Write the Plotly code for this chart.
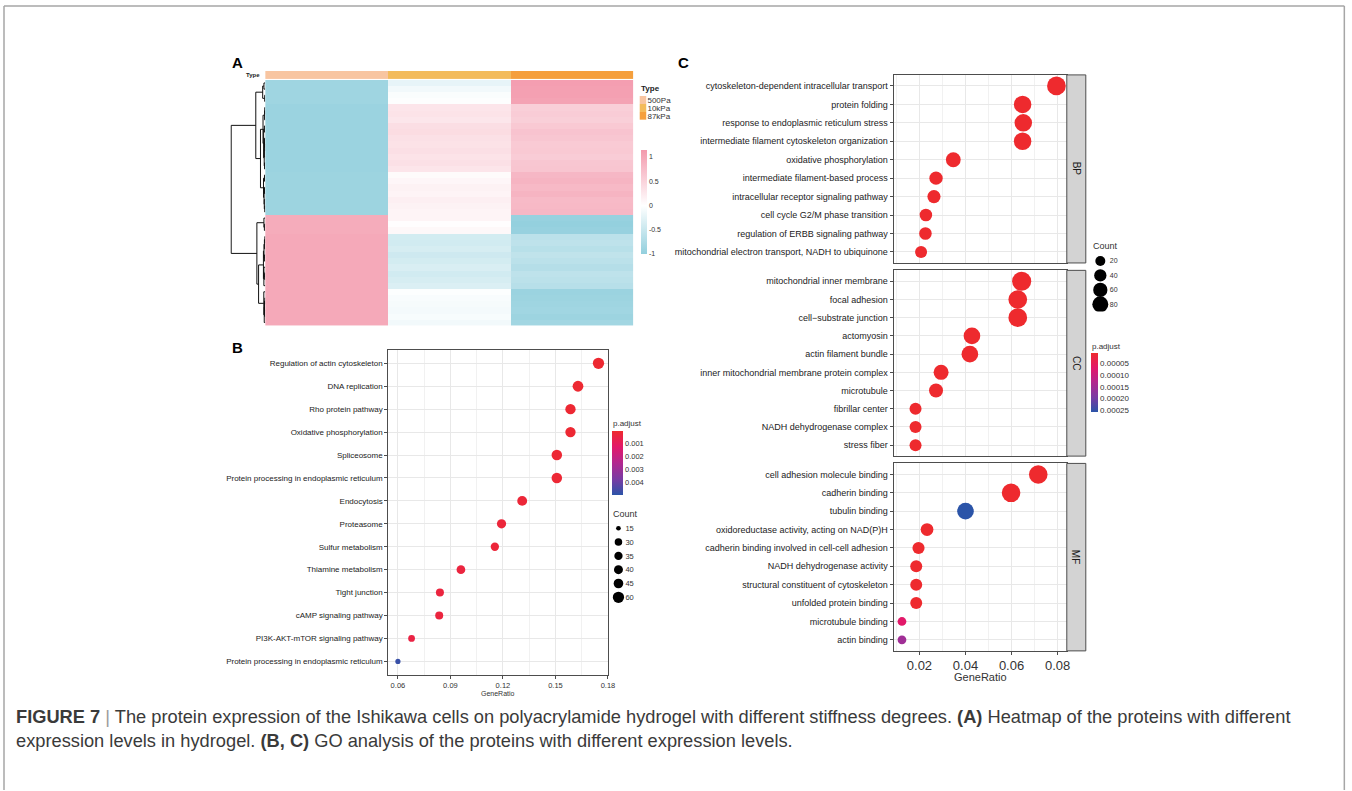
import numpy as np
import plotly.graph_objects as go

W, H = 1352, 791
SX = 1344  # horizontal reference width used to place the panels


def X(px):
    return min(px / SX, 0.9995)


def Y(py):
    return 1 - py / H


# ---------------- Panel A: heatmap of row z-scores ----------------
stiffness = ["500Pa", "10kPa", "87kPa"]
stiffness_colors = ["#f8c5a1", "#f3bb5c", "#f59f3c"]
z_500pa = [-0.88, -0.88, -0.88, -0.88,
           -0.92, -0.92, -0.92, -0.92, -0.92, -0.92,
           -0.92, -0.92, -0.92, -0.92, -0.92,
           -0.90, -0.90, -0.90, -0.90, -0.90, -0.90, -0.90,
           0.95, 0.95, 0.95,
           0.98, 0.98, 0.98, 0.98, 0.98, 0.98, 0.98, 0.98, 0.98,
           0.98, 0.98, 0.98, 0.98, 0.98, 0.98]
z_10kpa = [-0.22, -0.12, -0.05, -0.02,
           0.30, 0.32, 0.28, 0.38, 0.40, 0.35,
           0.33, 0.36, 0.32, 0.35, 0.30,
           0.05, 0.10, 0.15, 0.12, 0.18, 0.15, 0.12,
           0.12, 0.02, 0.08,
           -0.40, -0.42, -0.38, -0.45, -0.40, -0.35, -0.42, -0.38, -0.33,
           -0.03, -0.06, -0.08, -0.10, -0.07, -0.12]
z_87kpa = [1.10, 1.08, 1.08, 1.05,
           0.55, 0.58, 0.55, 0.62, 0.68, 0.65,
           0.60, 0.62, 0.58, 0.65, 0.66,
           0.82, 0.85, 0.80, 0.85, 0.78, 0.80, 0.82,
           -0.95, -0.98, -0.95,
           -0.62, -0.60, -0.65, -0.58, -0.62, -0.68, -0.60, -0.62, -0.66,
           -0.92, -0.90, -0.88, -0.86, -0.90, -0.85]
heat_ticks = [-1, -0.5, 0, 0.5, 1]
heat_ticktext = ["-1", "-0.5", "0", "0.5", "1"]

# ---------------- Panel B: KEGG dot plot ----------------
kegg_terms = ["Regulation of actin cytoskeleton", "DNA replication", "Rho protein pathway",
              "Oxidative phosphorylation", "Spliceosome",
              "Protein processing in endoplasmic reticulum", "Endocytosis", "Proteasome",
              "Sulfur metabolism", "Thiamine metabolism", "Tight junction",
              "cAMP signaling pathway", "PI3K-AKT-mTOR signaling pathway",
              "Protein processing in endoplasmic reticulum"]
kegg_ratio = [0.1746, 0.1629, 0.1586, 0.1586, 0.1508, 0.1508, 0.1310, 0.1192,
              0.1154, 0.0960, 0.0840, 0.0836, 0.0678, 0.0600]
kegg_count = [60, 55, 51, 51, 53, 53, 47, 42, 35, 38, 33, 33, 25, 17]
kegg_padj = [0.00010, 0.00012, 0.00015, 0.00015, 0.00020, 0.00020, 0.00025, 0.00030,
             0.00030, 0.00040, 0.00040, 0.00040, 0.00050, 0.00480]
kegg_xticks = [0.06, 0.09, 0.12, 0.15, 0.18]
kegg_count_breaks = [15, 30, 35, 40, 45, 60]
kegg_padj_breaks = [0.001, 0.002, 0.003, 0.004]

# ---------------- Panel C: GO dot plot ----------------
bp_terms = ["cytoskeleton-dependent intracellular transport", "protein folding",
            "response to endoplasmic reticulum stress",
            "intermediate filament cytoskeleton organization", "oxidative phosphorylation",
            "intermediate filament-based process", "intracellular receptor signaling pathway",
            "cell cycle G2/M phase transition", "regulation of ERBB signaling pathway",
            "mitochondrial electron transport, NADH to ubiquinone"]
bp_ratio = [0.0795, 0.0648, 0.0651, 0.0648, 0.0347, 0.0272, 0.0263, 0.0228, 0.0226, 0.0207]
bp_count = [116, 100, 100, 100, 66, 50, 48, 42, 42, 37]
bp_padj = [1e-6, 1e-6, 1e-6, 1e-6, 1e-6, 2e-6, 2e-6, 2e-6, 2e-6, 2e-6]

cc_terms = ["mitochondrial inner membrane", "focal adhesion", "cell\u2212substrate junction",
            "actomyosin", "actin filament bundle",
            "inner mitochondrial membrane protein complex", "microtubule", "fibrillar center",
            "NADH dehydrogenase complex", "stress fiber"]
cc_ratio = [0.0644, 0.0627, 0.0627, 0.0428, 0.0419, 0.0294, 0.0272, 0.0183, 0.0183, 0.0183]
cc_count = [122, 116, 116, 88, 88, 68, 57, 37, 37, 37]
cc_padj = [1e-6, 1e-6, 1e-6, 1e-6, 1e-6, 1e-6, 2e-6, 2e-6, 2e-6, 2e-6]

mf_terms = ["cell adhesion molecule binding", "cadherin binding", "tubulin binding",
            "oxidoreductase activity, acting on NAD(P)H",
            "cadherin binding involved in cell-cell adhesion", "NADH dehydrogenase activity",
            "structural constituent of cytoskeleton", "unfolded protein binding",
            "microtubule binding", "actin binding"]
mf_ratio = [0.0716, 0.0598, 0.0400, 0.0233, 0.0196, 0.0186, 0.0186, 0.0186, 0.0124, 0.0124]
mf_count = [114, 114, 88, 44, 38, 37, 37, 37, 11, 11]
mf_padj = [1e-6, 1e-6, 0.000255, 2e-6, 2e-6, 2e-6, 2e-6, 2e-6, 0.000066, 0.000150]

go_facets = ["BP", "CC", "MF"]
go_xticks = [0.02, 0.04, 0.06, 0.08]
go_count_breaks = [20, 40, 60, 80]
go_padj_breaks = [0.00005, 0.00010, 0.00015, 0.00020, 0.00025]

caption_line1 = ("<b>FIGURE 7</b> <span style='color:#9a9a9a'>|</span> The protein expression of the Ishikawa cells on "
                 "polyacrylamide hydrogel with different stiffness degrees. <b>(A)</b> Heatmap of the "
                 "proteins with different")
caption_line2 = ("expression levels in hydrogel. <b>(B, C)</b> GO analysis of the proteins with "
                 "different expression levels.")

# ---------------- styles ----------------
FONT = "Liberation Sans, Arial, sans-serif"
GRID = "#e8e8e8"
MINOR = "#f1f1f1"
BORDER = "#4d4d4d"
TXT = "#333333"
heat_scale = [[0, "#92cfdd"], [0.465, "#ffffff"], [1, "#f39aad"]]
p_scale = [[0, "#2b54a8"], [0.25, "#7a3ba3"], [0.5, "#b2278f"], [0.75, "#e2186a"], [1, "#ee2a2e"]]


def size_b(c):
    c = np.asarray(c, dtype=float)
    return np.sqrt(4.7 ** 2 + (c - 15) / 45 * (11.3 ** 2 - 4.7 ** 2))


def size_c(c):
    c = np.asarray(c, dtype=float)
    return np.sqrt(48 + 2.6 * c)


fig = go.Figure()

# ---- heatmap ----
M = np.array([z_500pa, z_10kpa, z_87kpa]).T
n = M.shape[0]
fig.add_trace(go.Heatmap(
    z=M, x=list(range(3)), y=list(range(n)), xaxis="x", yaxis="y",
    colorscale=heat_scale, zmin=-1.0, zmax=1.15, xgap=0, ygap=0,
    colorbar=dict(x=X(641), xanchor="left", y=Y(202), yanchor="middle",
                  len=104, lenmode="pixels", thickness=6, thicknessmode="pixels",
                  xpad=0, ypad=0, outlinewidth=0, ticks="",
                  tickvals=heat_ticks, ticktext=heat_ticktext,
                  tickfont=dict(size=7, color=TXT, family=FONT))))

# ---- annotation bar (Type) ----
disc = [[0, stiffness_colors[0]], [1 / 3, stiffness_colors[0]],
        [1 / 3, stiffness_colors[1]], [2 / 3, stiffness_colors[1]],
        [2 / 3, stiffness_colors[2]], [1, stiffness_colors[2]]]
fig.add_trace(go.Heatmap(z=[[0, 1, 2]], x=[0, 1, 2], y=[0], xaxis="x2", yaxis="y2",
                         colorscale=disc, zmin=0, zmax=2, showscale=False))
# Type legend
fig.add_trace(go.Heatmap(z=[[0], [1], [2]], x=[0], y=[0, 1, 2], xaxis="x10", yaxis="y10",
                         colorscale=disc, zmin=0, zmax=2, showscale=False))

# ---- dendrogram (ordered complete linkage, computed from the rows) ----
D = np.sqrt(((M[:, None, :] - M[None, :, :]) ** 2).sum(-1))
clusters = [dict(members=[i], pos=float(i), h=0.0) for i in range(n)]
dx, dy = [], []
while len(clusters) > 1:
    best = None
    for k in range(len(clusters) - 1):
        a, b = clusters[k], clusters[k + 1]
        d = D[np.ix_(a["members"], b["members"])].max()
        if best is None or d < best[0]:
            best = (d, k)
    d, k = best
    a, b = clusters[k], clusters[k + 1]
    d = max(d, a["h"], b["h"])
    dx += [a["h"], d, d, b["h"], None]
    dy += [a["pos"], a["pos"], b["pos"], b["pos"], None]
    clusters[k:k + 2] = [dict(members=a["members"] + b["members"],
                              pos=(a["pos"] + b["pos"]) / 2, h=d)]
root_h = clusters[0]["h"]
fig.add_trace(go.Scatter(x=dx, y=dy, mode="lines", xaxis="x3", yaxis="y3",
                         line=dict(color="#111111", width=1), showlegend=False))

# ---- Panel B ----
fig.add_trace(go.Scatter(
    x=kegg_ratio, y=list(range(len(kegg_terms))), mode="markers", xaxis="x4", yaxis="y4",
    marker=dict(size=size_b(kegg_count), color=[-p for p in kegg_padj], coloraxis="coloraxis",
                line=dict(width=0), opacity=1), showlegend=False))
fig.add_trace(go.Scatter(
    x=[0] * len(kegg_count_breaks), y=list(range(len(kegg_count_breaks))), mode="markers",
    xaxis="x8", yaxis="y8",
    marker=dict(size=size_b(kegg_count_breaks), color="black", opacity=1, line=dict(width=0)),
    showlegend=False))

# ---- Panel C ----
for i, (ratio, cnt, padj) in enumerate([(bp_ratio, bp_count, bp_padj),
                                         (cc_ratio, cc_count, cc_padj),
                                         (mf_ratio, mf_count, mf_padj)]):
    fig.add_trace(go.Scatter(
        x=ratio, y=list(range(len(ratio))), mode="markers",
        xaxis="x%d" % (5 + i), yaxis="y%d" % (5 + i),
        marker=dict(size=size_c(cnt), color=[-p for p in padj], coloraxis="coloraxis2",
                    line=dict(width=0), opacity=1), showlegend=False))
fig.add_trace(go.Scatter(
    x=[0] * len(go_count_breaks), y=list(range(len(go_count_breaks))), mode="markers",
    xaxis="x9", yaxis="y9",
    marker=dict(size=size_c(go_count_breaks), color="black", opacity=1, line=dict(width=0)),
    showlegend=False))


def hidden(domain, rng, **kw):
    d = dict(domain=domain, range=rng, showgrid=False, zeroline=False, showticklabels=False,
             ticks="", showline=False, fixedrange=True)
    d.update(kw)
    return d


def panel_x(domain, rng, tickvals, minor0, minordt, show, anchor, size):
    return dict(domain=domain, range=rng, anchor=anchor, tickvals=tickvals,
                ticktext=["%g" % v for v in tickvals],
                showgrid=True, gridcolor=GRID, gridwidth=1, zeroline=False,
                minor=dict(tick0=minor0, dtick=minordt, showgrid=True, gridcolor=MINOR,
                           gridwidth=1),
                showline=True, mirror=True, linecolor=BORDER, linewidth=1,
                ticks="outside" if show else "", ticklen=3, tickcolor=BORDER,
                showticklabels=show, tickfont=dict(size=size, color=TXT, family=FONT))


def panel_y(domain, labels, anchor, size):
    m = len(labels)
    return dict(domain=domain, range=[m - 1 + 0.6, -0.6], anchor=anchor,
                tickvals=list(range(m)), ticktext=labels,
                showgrid=True, gridcolor=GRID, gridwidth=1, zeroline=False,
                showline=True, mirror=True, linecolor=BORDER, linewidth=1,
                ticks="outside", ticklen=3, tickcolor=BORDER,
                tickfont=dict(size=size, color="#222222", family=FONT))


layout = dict(
    width=W, height=H, margin=dict(l=0, r=0, t=0, b=0, pad=0), autosize=False,
    paper_bgcolor="white", plot_bgcolor="white", hovermode=False, showlegend=False,
    font=dict(family=FONT, color=TXT),
    xaxis=hidden([X(265), X(633)], [-0.5, 2.5], anchor="y"),
    yaxis=hidden([Y(326), Y(80)], [n - 0.5, -0.5], anchor="x"),
    xaxis2=hidden([X(265), X(633)], [-0.5, 2.5], anchor="y2"),
    yaxis2=hidden([Y(79), Y(71)], [-0.5, 0.5], anchor="x2"),
    xaxis3=hidden([X(230), X(265)], [root_h * 1.03, 0], anchor="y3"),
    yaxis3=hidden([Y(326), Y(80)], [n - 0.5, -0.5], anchor="x3"),
    xaxis4=panel_x([X(388), X(608)], [0.0545, 0.1803], kegg_xticks, 0.075, 0.03, True, "y4", 7.5),
    yaxis4=panel_y([Y(676), Y(350)], kegg_terms, "x4", 8),
    xaxis5=panel_x([X(893), X(1066)], [0.0088, 0.084], go_xticks, 0.01, 0.02, False, "y5", 13),
    yaxis5=panel_y([Y(263.3), Y(75)], bp_terms, "x5", 9),
    xaxis6=panel_x([X(893), X(1066)], [0.0088, 0.084], go_xticks, 0.01, 0.02, False, "y6", 13),
    yaxis6=panel_y([Y(456.7), Y(270.7)], cc_terms, "x6", 9),
    xaxis7=panel_x([X(893), X(1066)], [0.0088, 0.084], go_xticks, 0.01, 0.02, True, "y7", 13),
    yaxis7=panel_y([Y(651.7), Y(464)], mf_terms, "x7", 9),
    xaxis8=hidden([X(612), X(624)], [-1, 1], anchor="y8"),
    yaxis8=hidden([Y(605), Y(522)], [len(kegg_count_breaks) - 0.5, -0.5], anchor="x8",
                  side="right", showticklabels=True,
                  tickvals=list(range(len(kegg_count_breaks))),
                  ticktext=[str(v) for v in kegg_count_breaks],
                  tickfont=dict(size=7.5, color=TXT, family=FONT)),
    xaxis9=hidden([X(1091), X(1108)], [-1, 1], anchor="y9"),
    yaxis9=hidden([Y(312), Y(254)], [len(go_count_breaks) - 0.5, -0.5], anchor="x9",
                  side="right", showticklabels=True,
                  tickvals=list(range(len(go_count_breaks))),
                  ticktext=[str(v) for v in go_count_breaks],
                  tickfont=dict(size=7, color=TXT, family=FONT)),
    xaxis10=hidden([X(639), X(646)], [-0.5, 0.5], anchor="y10"),
    yaxis10=hidden([Y(120), Y(96)], [2.5, -0.5], anchor="x10", side="right",
                   showticklabels=True, tickvals=[0, 1, 2], ticktext=stiffness,
                   tickfont=dict(size=8, color=TXT, family=FONT)),
    coloraxis=dict(cmin=-0.00501, cmax=-0.000046, colorscale=p_scale,
                   colorbar=dict(x=X(612), xanchor="left", y=Y(464), yanchor="middle",
                                 len=64, lenmode="pixels", thickness=11,
                                 thicknessmode="pixels", xpad=0, ypad=0, outlinewidth=0,
                                 ticks="", tickvals=[-v for v in kegg_padj_breaks],
                                 ticktext=["%g" % v for v in kegg_padj_breaks],
                                 tickfont=dict(size=7.5, color=TXT, family=FONT))),
    coloraxis2=dict(cmin=-0.000255, cmax=-0.0000039, colorscale=p_scale,
                    colorbar=dict(x=X(1090), xanchor="left", y=Y(382.5), yanchor="middle",
                                  len=59, lenmode="pixels", thickness=7,
                                  thicknessmode="pixels", xpad=0, ypad=0, outlinewidth=0,
                                  ticks="", tickvals=[-v for v in go_padj_breaks],
                                  ticktext=["%.5f" % v for v in go_padj_breaks],
                                  tickfont=dict(size=8, color=TXT, family=FONT))),
)


def ann(px, py, text, size, xanchor="left", yanchor="middle", color=TXT, angle=0):
    return dict(x=X(px), y=Y(py), xref="paper", yref="paper", text=text, showarrow=False,
                xanchor=xanchor, yanchor=yanchor, textangle=angle,
                font=dict(size=size, color=color, family=FONT))


annotations = [
    ann(230, 63, "<b>A</b>", 15, color="#000"),
    ann(230, 348, "<b>B</b>", 15, color="#000"),
    ann(675, 63, "<b>C</b>", 15, color="#000"),
    ann(262, 75, "<b>Type</b>", 6, xanchor="right", color="#222"),
    ann(639, 89, "<b>Type</b>", 8, color="#222"),
    ann(611, 424, "p.adjust", 8),
    ann(611, 515, "Count", 9),
    ann(1090, 246, "Count", 9),
    ann(1089, 347, "p.adjust", 8),
    ann(498, 694, "GeneRatio", 7, xanchor="center"),
    ann(979.5, 678, "GeneRatio", 11, xanchor="center"),
    ann(14, 717, caption_line1, 18.25, color="#3a3a3a"),
    ann(14, 741, caption_line2, 18.25, color="#3a3a3a"),
]
strip_y = [(75, 263.3), (270.7, 456.7), (464, 651.7)]
shapes = []
for name, (t, b) in zip(go_facets, strip_y):
    shapes.append(dict(type="rect", xref="paper", yref="paper", x0=X(1066), x1=X(1085),
                       y0=Y(b), y1=Y(t), fillcolor="#d3d3d3",
                       line=dict(color=BORDER, width=1), layer="above"))
    annotations.append(ann(1075.5, (t + b) / 2, name, 10, xanchor="center", color="#1a1a1a",
                           angle=90))
# outer frame
for x0, y0, x1, y1 in [(4, 6, 1349, 6), (4, 6, 4, 791), (1349, 6, 1349, 791)]:
    shapes.append(dict(type="line", xref="paper", yref="paper", x0=X(x0), y0=Y(y0),
                       x1=X(x1), y1=Y(y1), line=dict(color="#a6a6a6", width=1.5)))

layout["annotations"] = annotations
layout["shapes"] = shapes
fig.update_layout(**layout)
fig.write_html("out.html")
